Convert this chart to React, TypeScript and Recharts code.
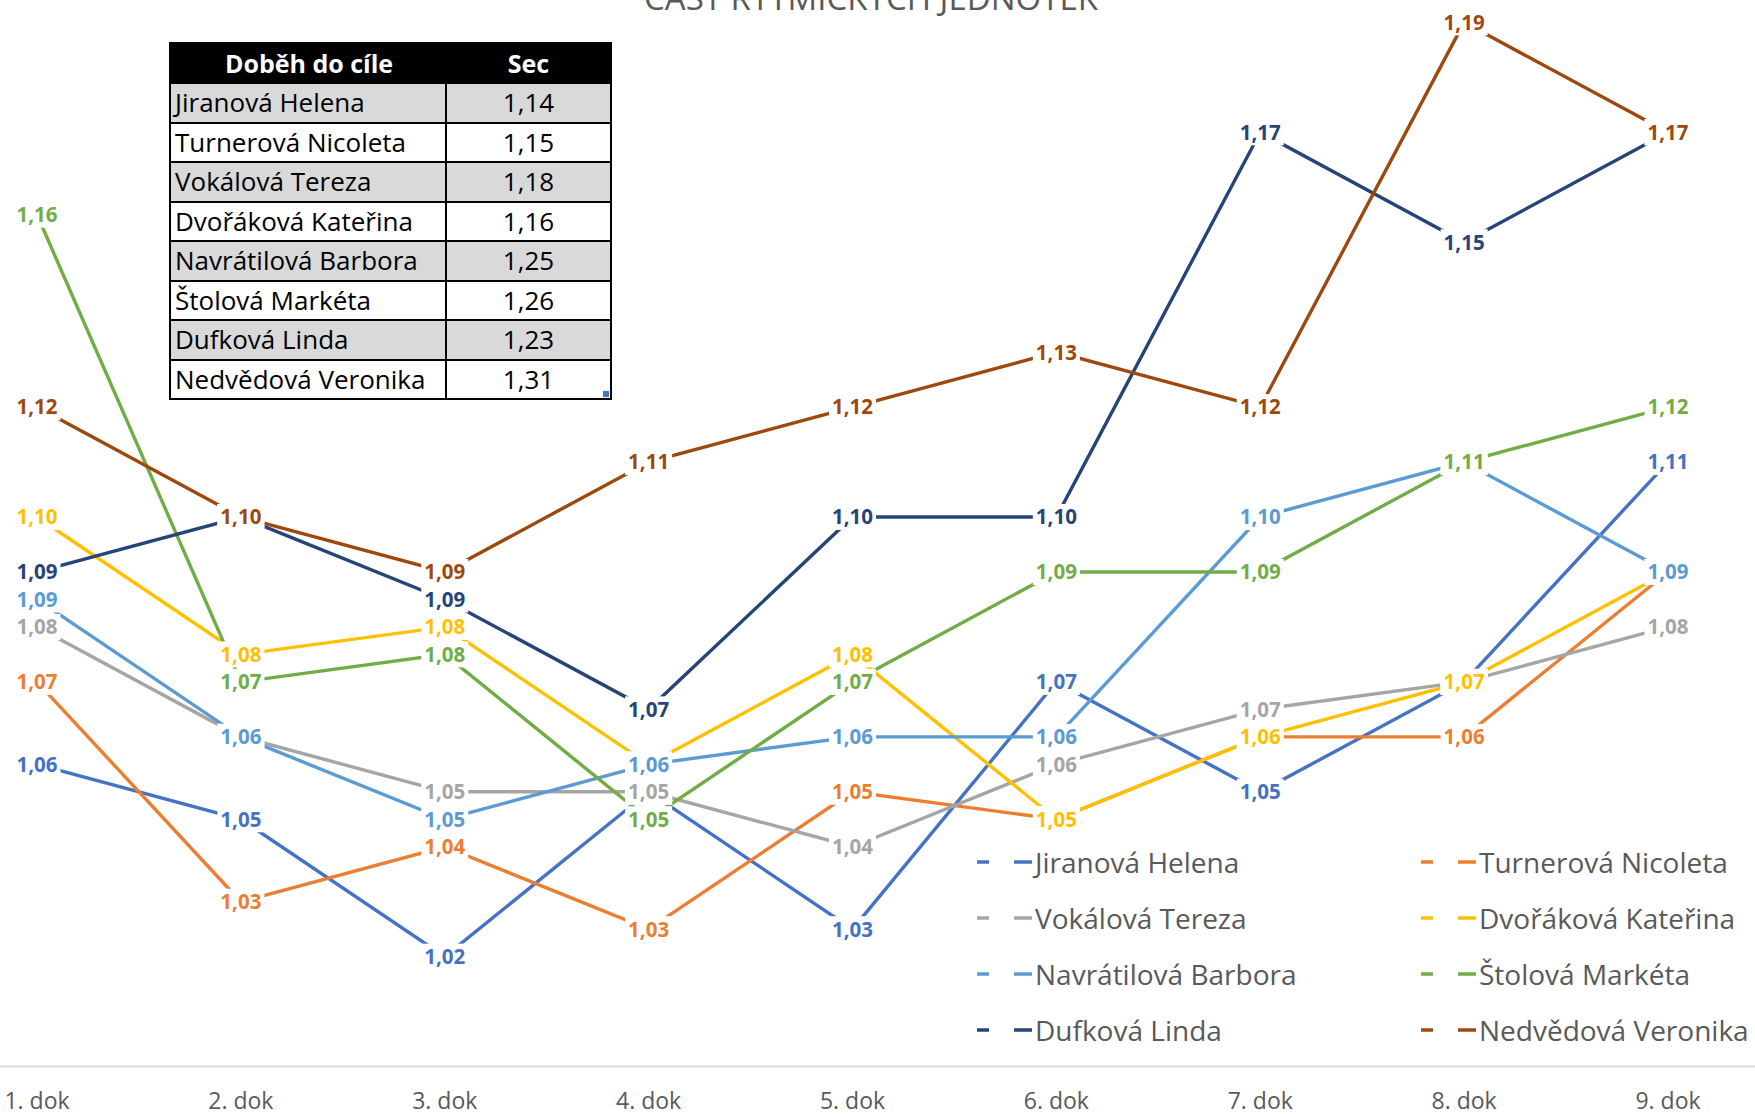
import React from 'react';
import { LineChart, Line, XAxis, YAxis, Legend, LabelList } from 'recharts';

// kategorie (dokončení)
const categories = ['1. dok', '2. dok', '3. dok', '4. dok', '5. dok', '6. dok', '7. dok', '8. dok', '9. dok'];

// časy rytmických jednotek po jednotlivých závodnicích
const jiranova = [1.055, 1.045, 1.02, 1.05, 1.025, 1.07, 1.05, 1.07, 1.11];
const turnerova = [1.07, 1.03, 1.04, 1.025, 1.05, 1.045, 1.06, 1.06, 1.09];
const vokalova = [1.08, 1.06, 1.05, 1.05, 1.04, 1.055, 1.065, 1.07, 1.08];
const dvorakova = [1.10, 1.075, 1.08, 1.055, 1.075, 1.045, 1.06, 1.07, 1.09];
const navratilova = [1.085, 1.06, 1.045, 1.055, 1.06, 1.06, 1.10, 1.11, 1.09];
const stolova = [1.155, 1.07, 1.075, 1.045, 1.07, 1.09, 1.09, 1.11, 1.12];
const dufkova = [1.09, 1.10, 1.085, 1.065, 1.10, 1.10, 1.17, 1.15, 1.17];
const nedvedova = [1.12, 1.10, 1.09, 1.11, 1.12, 1.13, 1.12, 1.19, 1.17];

// tabulka doběhu do cíle
const finishNames = [
  'Jiranová Helena',
  'Turnerová Nicoleta',
  'Vokálová Tereza',
  'Dvořáková Kateřina',
  'Navrátilová Barbora',
  'Štolová Markéta',
  'Dufková Linda',
  'Nedvědová Veronika',
];
const finishTimes = ['1,14', '1,15', '1,18', '1,16', '1,25', '1,26', '1,23', '1,31'];

const seriesNames = finishNames;
const seriesValues = [jiranova, turnerova, vokalova, dvorakova, navratilova, stolova, dufkova, nedvedova];
const seriesColors = ['#4472C4', '#ED7D31', '#A5A5A5', '#FFC000', '#5B9BD5', '#70AD47', '#264478', '#9E480E'];

const data = categories.map((name, i) => {
  const row: Record<string, string | number> = { name };
  seriesValues.forEach((vals, s) => {
    row[`s${s}`] = vals[i];
  });
  return row;
});

const FONT = '"Open Sans", "Noto Sans", sans-serif';
const TEXT_GRAY = '#595959';

const fmt = (v: number) => (Math.round(v * 100 + 1e-6) / 100).toFixed(2).replace('.', ',');

const valueLabel = (color: string) => (props: any) => {
  const { x, y, value } = props;
  if (x == null || y == null || value == null) return null;
  const txt = fmt(Number(value));
  const fs = 20.5;
  const w = fs * 2.0 + 6;
  return (
    <g>
      <rect x={x - w / 2} y={y - 13} width={w} height={26} fill="#ffffff" />
      <text
        x={x}
        y={y}
        dy="0.36em"
        textAnchor="middle"
        fill={color}
        fontSize={fs}
        fontWeight={700}
        fontFamily={FONT}
      >
        {txt}
      </text>
    </g>
  );
};

const DokTick = (props: any) => {
  const { x, y, payload } = props;
  return (
    <text x={x} y={y} dy={42.5} textAnchor="middle" fill={TEXT_GRAY} fontSize={23} fontFamily={FONT}>
      {payload.value}
    </text>
  );
};

// legenda ve dvou sloupcích, pořadí podle série
const LegendBox = () => (
  <div style={{ display: 'grid', gridTemplateColumns: '444px 380px', fontFamily: FONT }}>
    {seriesNames.map((n, s) => (
      <div key={n} style={{ height: 56, display: 'flex', alignItems: 'center' }}>
        <svg width={58} height={10} style={{ display: 'block', flex: 'none' }}>
          <line x1={0} x2={12} y1={5} y2={5} stroke={seriesColors[s]} strokeWidth={3.5} />
          <line x1={37} x2={55} y1={5} y2={5} stroke={seriesColors[s]} strokeWidth={3.5} />
        </svg>
        <span style={{ fontSize: 28, color: TEXT_GRAY, whiteSpace: 'nowrap', lineHeight: 1 }}>{n}</span>
      </div>
    ))}
  </div>
);

const FinishTable = () => (
  <div
    style={{
      position: 'absolute',
      left: 169,
      top: 42,
      width: 443,
      height: 358,
      boxSizing: 'border-box',
      border: '2px solid #000',
      fontFamily: FONT,
      background: '#fff',
    }}
  >
    <div style={{ display: 'flex', height: 38, background: '#000', color: '#fff', fontWeight: 700, fontSize: 25, lineHeight: '38px' }}>
      <div style={{ width: 276, textAlign: 'center' }}>Doběh do cíle</div>
      <div style={{ flex: 1, textAlign: 'center' }}>Sec</div>
    </div>
    {finishNames.map((n, i) => (
      <div
        key={n}
        style={{
          display: 'flex',
          height: 39.5,
          boxSizing: 'border-box',
          borderTop: '2px solid #000',
          background: i % 2 === 0 ? '#D9D9D9' : '#FFFFFF',
          fontSize: 26,
          lineHeight: '37.5px',
          color: '#000',
        }}
      >
        <div style={{ width: 276, boxSizing: 'border-box', borderRight: '2px solid #000', paddingLeft: 4, whiteSpace: 'nowrap' }}>
          {n}
        </div>
        <div style={{ flex: 1, textAlign: 'center' }}>{finishTimes[i]}</div>
      </div>
    ))}
    <div style={{ position: 'absolute', right: 1, bottom: 1, width: 6, height: 6, background: '#4472C4' }} />
  </div>
);

export default function App() {
  return (
    <div
      style={{
        position: 'absolute',
        left: 0,
        top: 0,
        width: 1755,
        height: 1114,
        overflow: 'hidden',
        background: '#ffffff',
      }}
    >
      <svg width={1755} height={40} style={{ position: 'absolute', left: 0, top: 0 }}>
        <text x={871} y={9.5} textAnchor="middle" fill={TEXT_GRAY} fontSize={33} fontFamily={FONT}>
          ČÁST RYTMICKÝCH JEDNOTEK
        </text>
      </svg>
      <div style={{ position: 'absolute', left: -100, top: -60 }}>
        <LineChart width={1900} height={1200} data={data} margin={{ top: 27.4, right: 30, bottom: 13.4, left: 35 }}>
          <XAxis
            dataKey="name"
            height={60}
            padding={{ left: 102, right: 102 }}
            axisLine={{ stroke: '#D9D9D9', strokeWidth: 2 }}
            tickLine={false}
            tickSize={0}
            tickMargin={0}
            tick={<DokTick />}
            interval={0}
          />
          <YAxis hide domain={[1.0, 1.2]} allowDataOverflow />
          <Legend
            layout="vertical"
            align="center"
            verticalAlign="middle"
            content={<LegendBox />}
            wrapperStyle={{ left: 1077, top: 894, width: 830, height: 224 }}
          />
          {seriesNames.map((n, s) => (
            <Line
              key={n}
              name={n}
              dataKey={`s${s}`}
              stroke={seriesColors[s]}
              strokeWidth={3.4}
              dot={false}
              activeDot={false}
              isAnimationActive={false}
            >
              <LabelList dataKey={`s${s}`} content={valueLabel(seriesColors[s])} />
            </Line>
          ))}
        </LineChart>
      </div>
      <FinishTable />
    </div>
  );
}
